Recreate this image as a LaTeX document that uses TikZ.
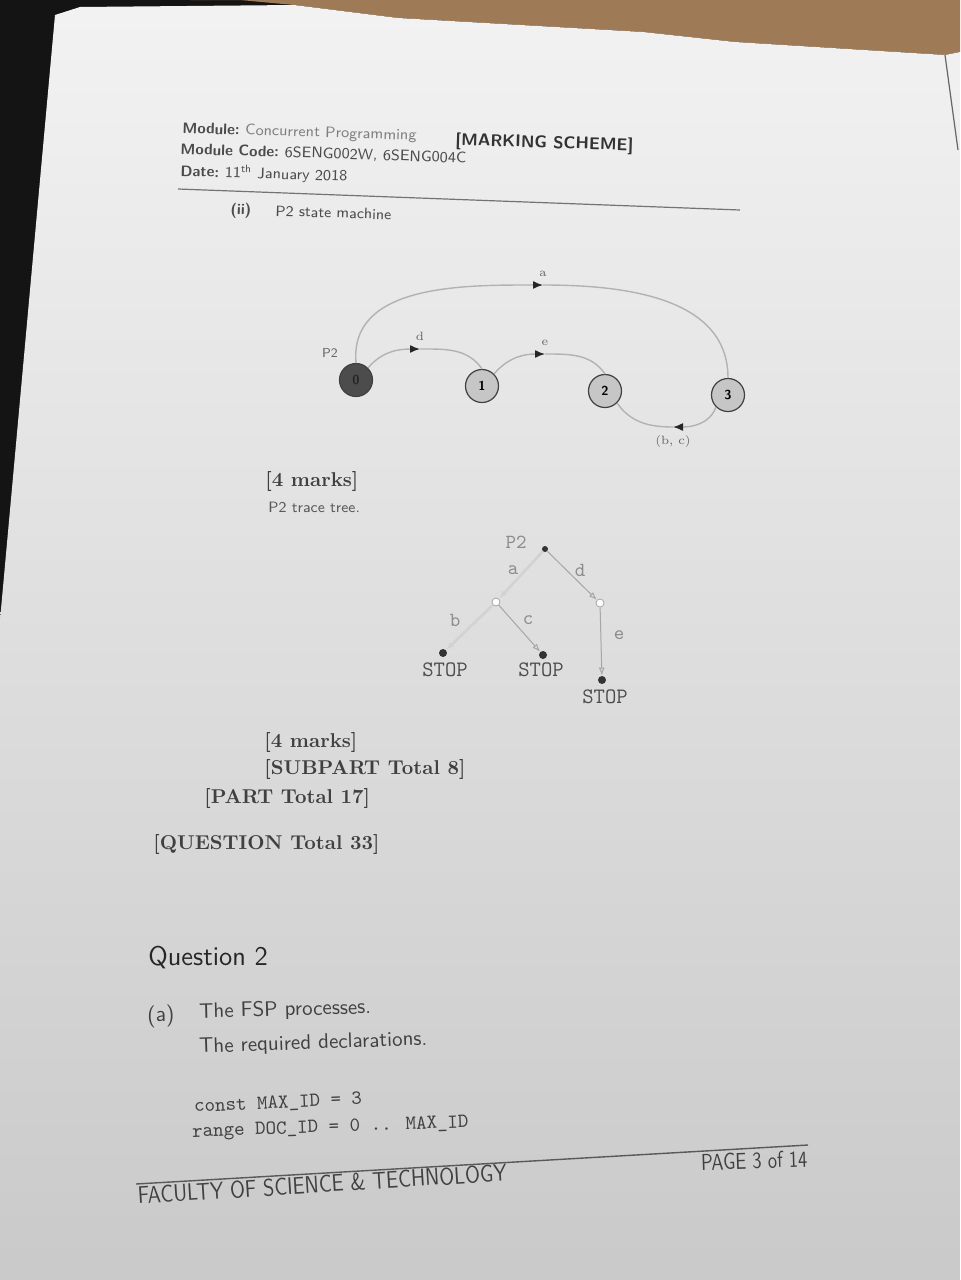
\documentclass[tikz,border=0pt]{standalone}
\usepackage{tikz}
\usetikzlibrary{arrows.meta}
\begin{document}
\begin{tikzpicture}[x=0.5pt,y=0.5pt,every node/.append style={inner sep=0pt}]
\tikzset{
	state/.style={circle, draw=black!75, fill=gray!45, line width=0.6pt, minimum size=16.5pt, font=\sffamily\bfseries\fontsize{6.5}{6.5}\selectfont},
	initstate/.style={state, fill=black!70, text=black!85},
	trans/.style={draw=gray!60, line width=0.7pt},
	tip/.style={-{Latex[length=5pt,width=4pt,color=black!85]}},
	smlabel/.style={font=\fontsize{6}{6}\selectfont, text=black!60},
	hdr/.style={anchor=base west, rotate=-1.8, font=\sffamily\fontsize{7.6}{8}\selectfont, text=black!70},
	hdrkey/.style={hdr, font=\sffamily\bfseries\fontsize{7.6}{8}\selectfont},
	marks/.style={anchor=base west, font=\bfseries\fontsize{10}{11}\selectfont, text=black!75},
	branch/.style={draw=gray!70, line width=0.5pt, -{Latex[length=4pt,width=3pt,open]}},
	thickbranch/.style={branch, draw=gray!35, line width=1.3pt},
	ttlabel/.style={font=\ttfamily\fontsize{10}{10}\selectfont, text=black!45},
	stoplabel/.style={font=\ttfamily\fontsize{11}{11}\selectfont, text=black!70},
	fulldot/.style={circle, fill=black!80, minimum size=4pt},
	opendot/.style={circle, draw=gray!70, fill=white, minimum size=4pt},
}
% background of the photo
\fill[black!92] (0,0) rectangle (960,-1280);
\fill[brown!70!black!80] (190,0) -- (960,0) -- (960,-52) -- (945,-55) -- (735,-42) -- (643,-32) -- (398,-18) -- (294,-5) -- (240,0) -- cycle;
\shade[top color=gray!10, bottom color=gray!42] (55,-15) -- (80,-7) -- (294,-5) -- (398,-18) -- (643,-32) -- (735,-42) -- (945,-55) -- (960,-52) -- (960,-1280) -- (0,-1280) -- (0,-620) -- cycle;
\draw[black!60, line width=0.6pt] (945,-55) -- (958,-150);
\useasboundingbox (0,0) rectangle (960,-1280);

% header
\node[hdrkey] (modkey) at (182,-133) {Module:};
\node[hdr, text=black!50] (modval) at ([xshift=2.5pt]modkey.base east) {Concurrent Programming};
\node[hdrkey, font=\sffamily\bfseries\fontsize{8.5}{9}\selectfont, text=black!80] (scheme) at (455,-145) {[MARKING SCHEME]};
\node[hdrkey] (codekey) at (180,-154) {Module Code:};
\node[hdr] (codeval) at ([xshift=2.5pt]codekey.base east) {6SENG002W, 6SENG004C};
\node[hdrkey] (datekey) at (180,-176) {Date:};
\node[hdr] (dateval) at ([xshift=2.5pt]datekey.base east) {11\textsuperscript{th} January 2018};
\coordinate (hl) at (178,-189);
\coordinate (hr) at (740,-210);
\draw[black!55, line width=0.6pt] (hl) -- (hr);
\node[hdrkey] (ii) at (230,-214) {(ii)};
\node[hdr, font=\sffamily\fontsize{7.5}{9}\selectfont] (smtitle) at (275,-216) {P2 state machine};

% state machine
\node[initstate] (s0) at (356,-380) {0};
\node[state] (s1) at (482,-386) {1};
\node[state] (s2) at (605,-391) {2};
\node[state] (s3) at (728,-395) {3};
\node[font=\sffamily\fontsize{6.5}{7}\selectfont, text=black!60] (p2) at (330,-353) {P2};
\coordinate [label={[smlabel, label distance=4pt]above:a}] (amid) at (543,-285);
\coordinate [label={[smlabel, label distance=4pt]above:d}] (dmid) at (420,-349);
\coordinate [label={[smlabel, label distance=4pt]above:e}] (emid) at (545,-354);
\coordinate [label={[smlabel, label distance=4pt]below:(b, c)}] (bcmid) at (673,-427);
\draw[trans, tip] (s0.north) to[out=95, in=180] (amid);
\draw[trans] (amid) to[out=0, in=90] (s3.north);
\draw[trans, tip] (s0.north east) to[out=50, in=180] (dmid);
\draw[trans] (dmid) to[out=0, in=125] (s1.north);
\draw[trans, tip] (s1.north east) to[out=50, in=180] (emid);
\draw[trans] (emid) to[out=0, in=125] (s2.north);
\draw[trans, tip] (s3.south west) to[out=-110, in=0] (bcmid);
\draw[trans] (bcmid) to[out=180, in=-55] (s2.south east);

\node[marks] (m1) at (265,-486) {[4 marks]};
\node[anchor=base west, font=\sffamily\fontsize{7.5}{9}\selectfont, text=black!65] (tttitle) at (268,-512) {P2 trace tree.};

% trace tree
\node[fulldot, minimum size=3pt] (root) at (545,-549) {};
\node[ttlabel] (rootlabel) at (516,-542) {P2};
\node[opendot] (na) at (496,-602) {};
\node[opendot] (nd) at (600,-603) {};
\node[fulldot] (sb) at (443,-653) {};
\node[fulldot] (sc) at (543,-655) {};
\node[fulldot] (se) at (602,-680) {};
\draw[thickbranch] (root) -- (na);
\draw[branch] (root) -- (nd);
\draw[thickbranch] (na) -- (sb);
\draw[branch] (na) -- (sc);
\draw[branch] (nd) -- (se);
\node[ttlabel] (la) at (513,-570) {a};
\node[ttlabel] (ld) at (580,-570) {d};
\node[ttlabel] (lb) at (455,-620) {b};
\node[ttlabel] (lc) at (528,-620) {c};
\node[ttlabel] (le) at (619,-635) {e};
\node[stoplabel] (stopb) at (445,-670) {STOP};
\node[stoplabel] (stopc) at (541,-670) {STOP};
\node[stoplabel] (stope) at (605,-697) {STOP};

% totals
\node[marks] (m2) at (264,-747) {[4 marks]};
\node[marks] (sub) at (264,-774) {[SUBPART Total 8]};
\node[marks] (part) at (204,-803) {[PART Total 17]};
\node[marks] (quest) at (153,-849) {[QUESTION Total 33]};

% question 2
\node[anchor=base west, font=\sffamily\fontsize{13.5}{15}\selectfont, text=black!85] (q2) at (148,-965) {Question 2};
\node[anchor=base west, rotate=1, font=\sffamily\fontsize{11}{12}\selectfont, text=black!75] (qa) at (147,-1022) {(a)};
\node[anchor=base west, rotate=1.5, font=\sffamily\fontsize{10.5}{12}\selectfont, text=black!75] (fsp) at (199,-1018) {The FSP processes.};
\node[anchor=base west, rotate=2, font=\sffamily\fontsize{10.5}{12}\selectfont, text=black!75] (decl) at (199,-1053) {The required declarations.};
\node[anchor=base west, rotate=2.6, font=\ttfamily\fontsize{10}{11}\selectfont, text=black!75] (c1) at (194,-1112) {const MAX\_ID = 3};
\node[anchor=base west, rotate=2, font=\ttfamily\fontsize{10}{11}\selectfont, text=black!75] (c2) at (192,-1137) {range DOC\_ID = 0 .. MAX\_ID};

% footer
\coordinate (fl) at (136,-1184);
\coordinate (fr) at (808,-1145);
\draw[black!65, line width=0.7pt] (fl) -- (fr);
\node[anchor=base west, rotate=3.6, font=\sffamily\fontsize{12}{13}\selectfont, text=black!75] (fac) at (138,-1204) {\scalebox{0.86}[1]{FACULTY OF SCIENCE \& TECHNOLOGY}};
\node[anchor=base east, rotate=1.8, font=\sffamily\fontsize{11.5}{12}\selectfont, text=black!75] (page) at (808,-1167) {\scalebox{0.82}[1]{PAGE 3 of 14}};
\end{tikzpicture}
\end{document}
